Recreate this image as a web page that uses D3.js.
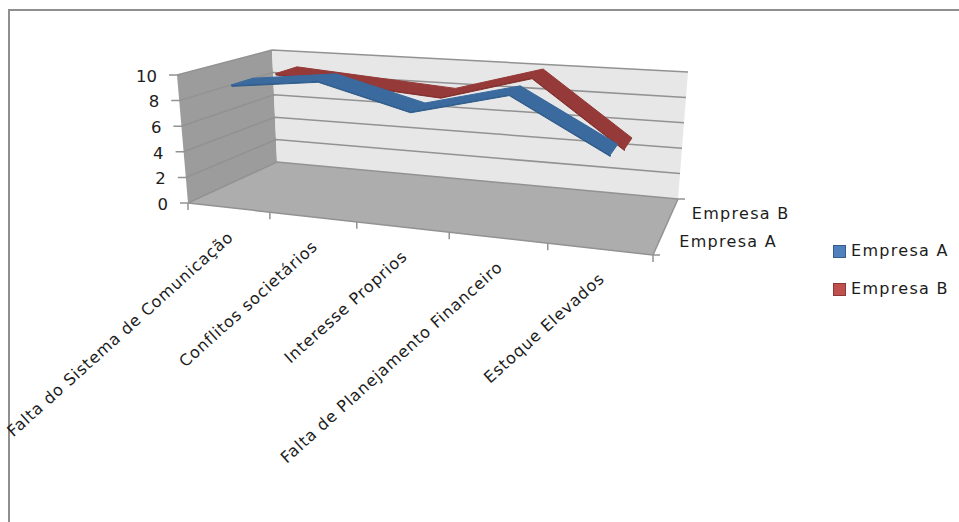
<!DOCTYPE html>
<html lang="pt">
<head>
<meta charset="utf-8">
<title>Empresa A e Empresa B</title>
<script src="https://cdn.jsdelivr.net/npm/d3@7/dist/d3.min.js"></script>
<style>
  html, body { margin: 0; padding: 0; background: #fff; }
  svg { display: block; }
  text { font-family: "DejaVu Sans", sans-serif; fill: #1c1c1c; }
</style>
</head>
<body>
<svg id="chart" width="959" height="522"></svg>
<script>
// Chart data
const categories = [
  "Falta do Sistema de Comunicação",
  "Conflitos societários",
  "Interesse Proprios",
  "Falta de Planejamento Financeiro",
  "Estoque Elevados"
];
const seriesNames = ["Empresa A", "Empresa B"];
const empresaA = [9.2, 10, 8.2, 10, 6.2];
const empresaB = [9, 8.5, 8, 10, 5];
const valueTicks = [0, 2, 4, 6, 8, 10];
const seriesColors = { "Empresa A": "#3a6a9e", "Empresa B": "#953a38" };
const seriesEdges = { "Empresa A": "#2f5c8c", "Empresa B": "#84302e" };
const legendColors = {
  "Empresa A": ["#4f81bd", "#385d8a"],
  "Empresa B": ["#c0504d", "#8c3836"]
};

const svg = d3.select("#chart");

// Scales work in unit box coordinates; project() turns them into pixels.
const xBand = d3.scaleBand().domain(categories).range([0, 1]);
const zBand = d3.scaleBand().domain(seriesNames).range([0, 1]);
const yUnit = d3.scaleLinear().domain([0, 10]).range([0, 1]);

// Corners of the 3D box: [x, z, y] -> pixel position
const corners = {
  "000": [188, 203], "100": [653, 255],
  "010": [277, 162], "110": [678, 199],
  "001": [177, 75],  "101": [667, 110],
  "011": [272, 50],  "111": [688, 72]
};
const foreshorten = 1.17;

function project(u, v, w) {
  const t = u / (u + foreshorten * (1 - u));
  const out = [0, 0];
  for (const a of [0, 1]) for (const b of [0, 1]) for (const c of [0, 1]) {
    const k = (a ? t : 1 - t) * (b ? v : 1 - v) * (c ? w : 1 - w);
    const p = corners[`${a}${b}${c}`];
    out[0] += k * p[0];
    out[1] += k * p[1];
  }
  return out;
}

const poly = pts => pts.map(p => p.join(",")).join(" ");
const gridColor = "#929292";

// Page frame
svg.append("path")
  .attr("d", "M9,522 V10 H959")
  .attr("fill", "none")
  .attr("stroke", "#8f8f8f")
  .attr("stroke-width", 2);

// Box walls
svg.append("polygon")
  .attr("points", poly([project(0,0,0), project(0,0,1), project(0,1,1), project(0,1,0)]))
  .attr("fill", "#9c9c9c");
svg.append("polygon")
  .attr("points", poly([project(0,1,0), project(0,1,1), project(1,1,1), project(1,1,0)]))
  .attr("fill", "#e7e7e7");
svg.append("polygon")
  .attr("points", poly([project(0,0,0), project(0,1,0), project(1,1,0), project(1,0,0)]))
  .attr("fill", "#adadad");

// Gridlines along the side and back walls
valueTicks.forEach(d => {
  const w = yUnit(d);
  svg.append("polyline")
    .attr("points", poly([[project(0,0,w)[0] - 8, project(0,0,w)[1]], project(0,0,w), project(0,1,w), project(1,1,w)]))
    .attr("fill", "none")
    .attr("stroke", gridColor)
    .attr("stroke-width", 1.5);
});

// Value axis labels
svg.selectAll(".value-label").data(valueTicks).join("text")
  .attr("class", "value-label")
  .attr("x", d => project(0,0,yUnit(d))[0] - 20)
  .attr("y", d => project(0,0,yUnit(d))[1] + 1)
  .attr("dy", "0.35em")
  .attr("text-anchor", "end")
  .attr("font-size", 16.5)
  .text(d => d);

// Front edge of the floor and its ticks
svg.append("line")
  .attr("x1", project(0,0,0)[0]).attr("y1", project(0,0,0)[1])
  .attr("x2", project(1,0,0)[0]).attr("y2", project(1,0,0)[1])
  .attr("stroke", gridColor).attr("stroke-width", 1.5);
const catTicks = d3.range(categories.length + 1).map(i => i / categories.length);
svg.selectAll(".cat-tick").data(catTicks).join("line")
  .attr("class", "cat-tick")
  .attr("x1", d => project(d,0,0)[0]).attr("x2", d => project(d,0,0)[0])
  .attr("y1", d => project(d,0,0)[1]).attr("y2", d => project(d,0,0)[1] + 7)
  .attr("stroke", gridColor).attr("stroke-width", 1.5);

// Right floor edge and its ticks
svg.append("line")
  .attr("x1", project(1,0,0)[0]).attr("y1", project(1,0,0)[1])
  .attr("x2", project(1,1,0)[0]).attr("y2", project(1,1,0)[1])
  .attr("stroke", gridColor).attr("stroke-width", 1.5);
[0, 1].forEach(v => {
  const p = project(1, v, 0);
  svg.append("line")
    .attr("x1", p[0]).attr("y1", p[1])
    .attr("x2", p[0] + 7).attr("y2", p[1])
    .attr("stroke", gridColor).attr("stroke-width", 1.5);
});

// Category labels, rotated and ending under each band
svg.selectAll(".cat-label").data(categories).join("text")
  .attr("class", "cat-label")
  .attr("text-anchor", "end")
  .attr("font-size", 16)
  .attr("letter-spacing", 0.85)
  .attr("transform", d => {
    const p = project(xBand(d) + xBand.bandwidth() / 2, 0, 0);
    return `translate(${p[0] + 6},${p[1] + 31}) rotate(-42)`;
  })
  .text(d => d);

// Series ribbons, farthest first; each has a thin darker side below its top face
const seriesValues = { "Empresa A": empresaA, "Empresa B": empresaB };
const halfDepth = 0.12;
const sideDrop = 0.012;
[...seriesNames].reverse().forEach(name => {
  const vMid = zBand(name) + zBand.bandwidth() / 2;
  const values = seriesValues[name];
  const at = (v, lift) => values.map((d, i) =>
    project(xBand(categories[i]) + xBand.bandwidth() / 2, v, yUnit(d) + lift));
  const front = at(vMid - halfDepth, 0);
  const back = at(vMid + halfDepth, 0);
  const frontLow = at(vMid - halfDepth, -sideDrop);
  svg.append("polygon")
    .attr("points", poly([...frontLow, ...front.slice().reverse()]))
    .attr("fill", seriesEdges[name])
    .attr("stroke", seriesEdges[name])
    .attr("stroke-linejoin", "round");
  svg.append("polygon")
    .attr("points", poly([...front, ...back.slice().reverse()]))
    .attr("fill", seriesColors[name])
    .attr("stroke", seriesColors[name])
    .attr("stroke-width", 1)
    .attr("stroke-linejoin", "round");
});

// Series axis labels
seriesNames.forEach(name => {
  const vMid = zBand(name) + zBand.bandwidth() / 2;
  const p = project(1, vMid, 0);
  svg.append("text")
    .attr("x", p[0] + 20)
    .attr("y", p[1] + 6)
    .attr("font-size", 16)
    .attr("letter-spacing", 1.3)
    .text(name);
});

// Legend
const legendY = d3.scalePoint().domain(seriesNames).range([245, 283]);
const legend = svg.selectAll(".legend").data(seriesNames).join("g")
  .attr("class", "legend")
  .attr("transform", d => `translate(833,${legendY(d)})`);
legend.append("rect")
  .attr("x", 0.5).attr("y", 0.5)
  .attr("width", 12).attr("height", 12)
  .attr("fill", d => legendColors[d][0])
  .attr("stroke", d => legendColors[d][1]);
legend.append("text")
  .attr("x", 18).attr("y", 11)
  .attr("font-size", 16)
  .attr("letter-spacing", 1.3)
  .text(d => d);
</script>
</body>
</html>
